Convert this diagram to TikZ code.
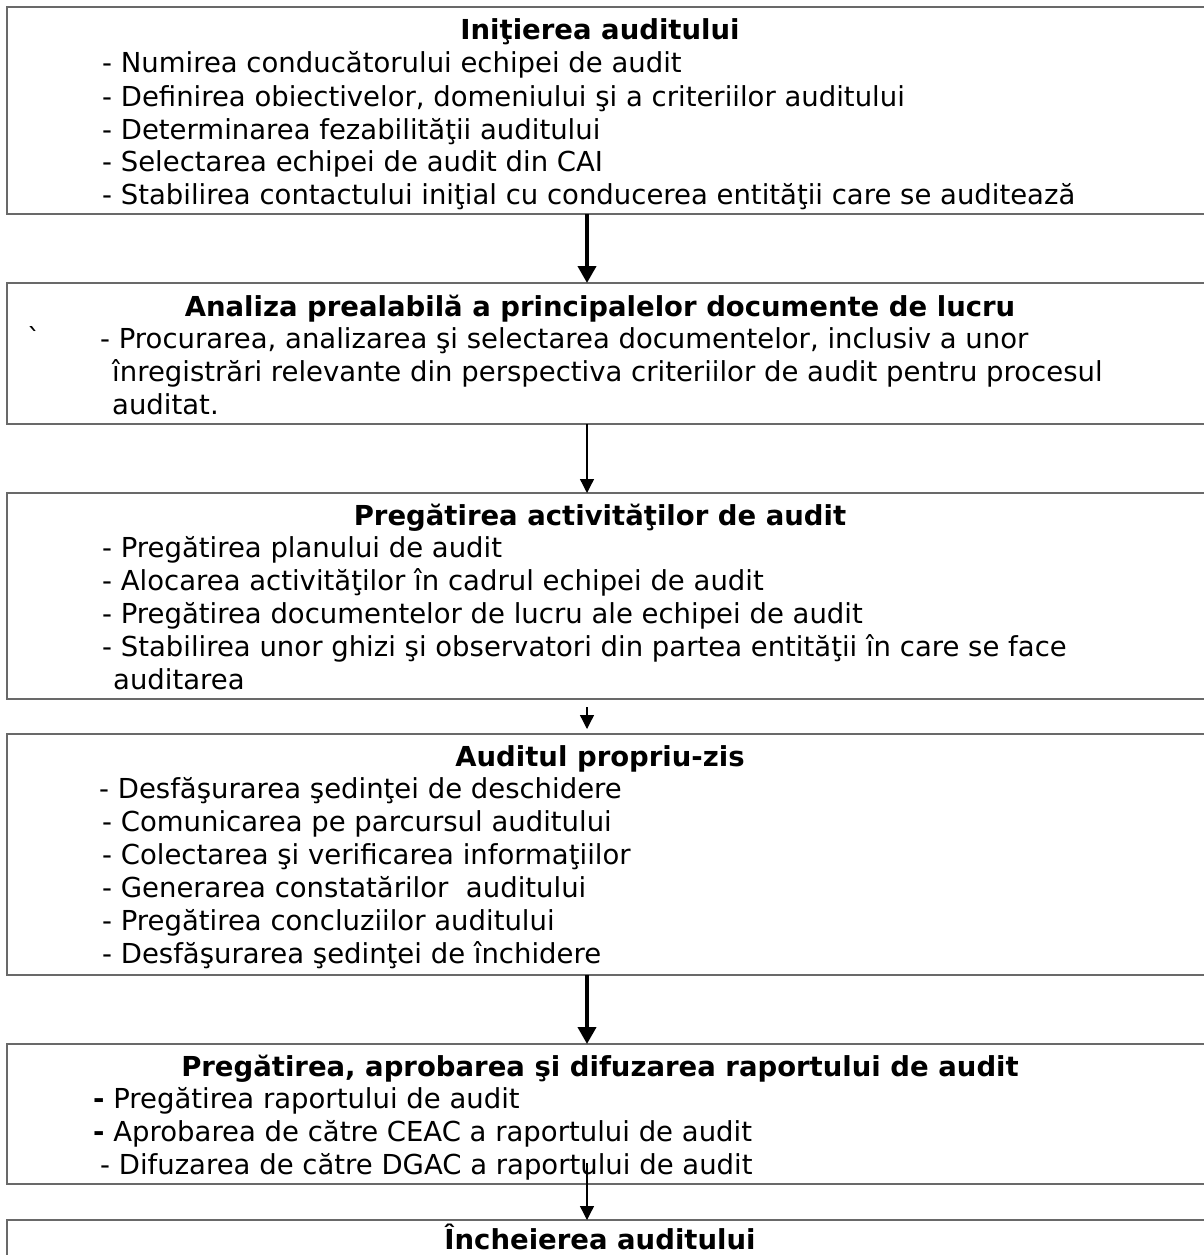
\documentclass[tikz,border=0pt]{standalone}
\usepackage{fontspec}
\setmainfont{DejaVu Sans}
\usetikzlibrary{arrows.meta}
\definecolor{bordergray}{RGB}{105,105,105}
\tikzset{
 box/.style={draw=bordergray, line width=1.8pt, inner sep=0pt, outer sep=0pt, anchor=north west, minimum width=1208pt},
 ttl/.style={anchor=base, inner sep=0pt, font=\fontsize{27.5pt}{33pt}\selectfont\bfseries},
 ln/.style={anchor=base west, inner sep=0pt, font=\fontsize{27.5pt}{33pt}\selectfont},
 thickarr/.style={line width=4pt, -{Triangle[width=18pt,length=17pt]}},
 thinarr/.style={line width=1.3pt, -{Triangle[width=14pt,length=14pt]}},
}
\begin{document}
\begin{tikzpicture}[x=1pt,y=-1pt]
\useasboundingbox (0,0) rectangle (1204,1255);
\clip (0,0) rectangle (1204,1255);
% boxes
\node[box, minimum height=207pt] (b1) at (7,7) {};
\node[box, minimum height=141pt] (b2) at (7,283) {};
\node[box, minimum height=206pt] (b3) at (7,493) {};
\node[box, minimum height=241pt] (b4) at (7,734) {};
\node[box, minimum height=140pt] (b5) at (7,1044) {};
\node[box, minimum height=70pt] (b6) at (7,1220) {};
% box 1
\node[ttl] (t1) at (600,40) {Iniţierea auditului};
\node[ln] (l11) at (102,73) {- Numirea conducătorului echipei de audit};
\node[ln] (l12) at (102,106) {- Definirea obiectivelor, domeniului şi a criteriilor auditului};
\node[ln] (l13) at (102,139) {- Determinarea fezabilităţii auditului};
\node[ln] (l14) at (102,171) {- Selectarea echipei de audit din CAI};
\node[ln] (l15) at (102,204) {- Stabilirea contactului iniţial cu conducerea entităţii care se auditează};
% box 2
\node[ttl] (t2) at (600,316) {Analiza prealabilă a principalelor documente de lucru};
\node[ln] (l20) at (27,348) {\textasciigrave};
\node[ln] (l21) at (100,348) {- Procurarea, analizarea şi selectarea documentelor, inclusiv a unor};
\node[ln] (l22) at (112,381) {înregistrări relevante din perspectiva criteriilor de audit pentru procesul};
\node[ln] (l23) at (112,414) {auditat.};
% box 3
\node[ttl] (t3) at (600,525) {Pregătirea activităţilor de audit};
\node[ln] (l31) at (102,557) {- Pregătirea planului de audit};
\node[ln] (l32) at (102,590) {- Alocarea activităţilor în cadrul echipei de audit};
\node[ln] (l33) at (102,623) {- Pregătirea documentelor de lucru ale echipei de audit};
\node[ln] (l34) at (102,656) {- Stabilirea unor ghizi şi observatori din partea entităţii în care se face};
\node[ln] (l35) at (113,689) {auditarea};
% box 4
\node[ttl] (t4) at (600,766) {Auditul propriu-zis};
\node[ln] (l41) at (99,798) {- Desfăşurarea şedinţei de deschidere};
\node[ln] (l42) at (102,831) {- Comunicarea pe parcursul auditului};
\node[ln] (l43) at (102,864) {- Colectarea şi verificarea informaţiilor};
\node[ln] (l44) at (102,897) {- Generarea constatărilor\ \ auditului};
\node[ln] (l45) at (102,930) {- Pregătirea concluziilor auditului};
\node[ln] (l46) at (102,963) {- Desfăşurarea şedinţei de închidere};
% box 5
\node[ttl] (t5) at (600,1076) {Pregătirea, aprobarea şi difuzarea raportului de audit};
\node[ln] (l51) at (93,1108) {{\bfseries -} Pregătirea raportului de audit};
\node[ln] (l52) at (93,1141) {{\bfseries -} Aprobarea de către CEAC a raportului de audit};
\node[ln] (l53) at (100,1174) {- Difuzarea de către DGAC a raportului de audit};
% box 6
\node[ttl] (t6) at (600,1249) {Încheierea auditului};
% arrows
\coordinate (ax) at (587,0);
\coordinate (a3s) at (587,707);
\coordinate (a3e) at (587,729);
\coordinate (a5s) at (587,1163);
\draw[thickarr] (b1.south -| ax) -- (b2.north -| ax);
\draw[thinarr] (b2.south -| ax) -- (b3.north -| ax);
\draw[thinarr] (a3s) -- (a3e);
\draw[thickarr] (b4.south -| ax) -- (b5.north -| ax);
\draw[thinarr] (a5s) -- (b6.north -| ax);
\end{tikzpicture}
\end{document}
